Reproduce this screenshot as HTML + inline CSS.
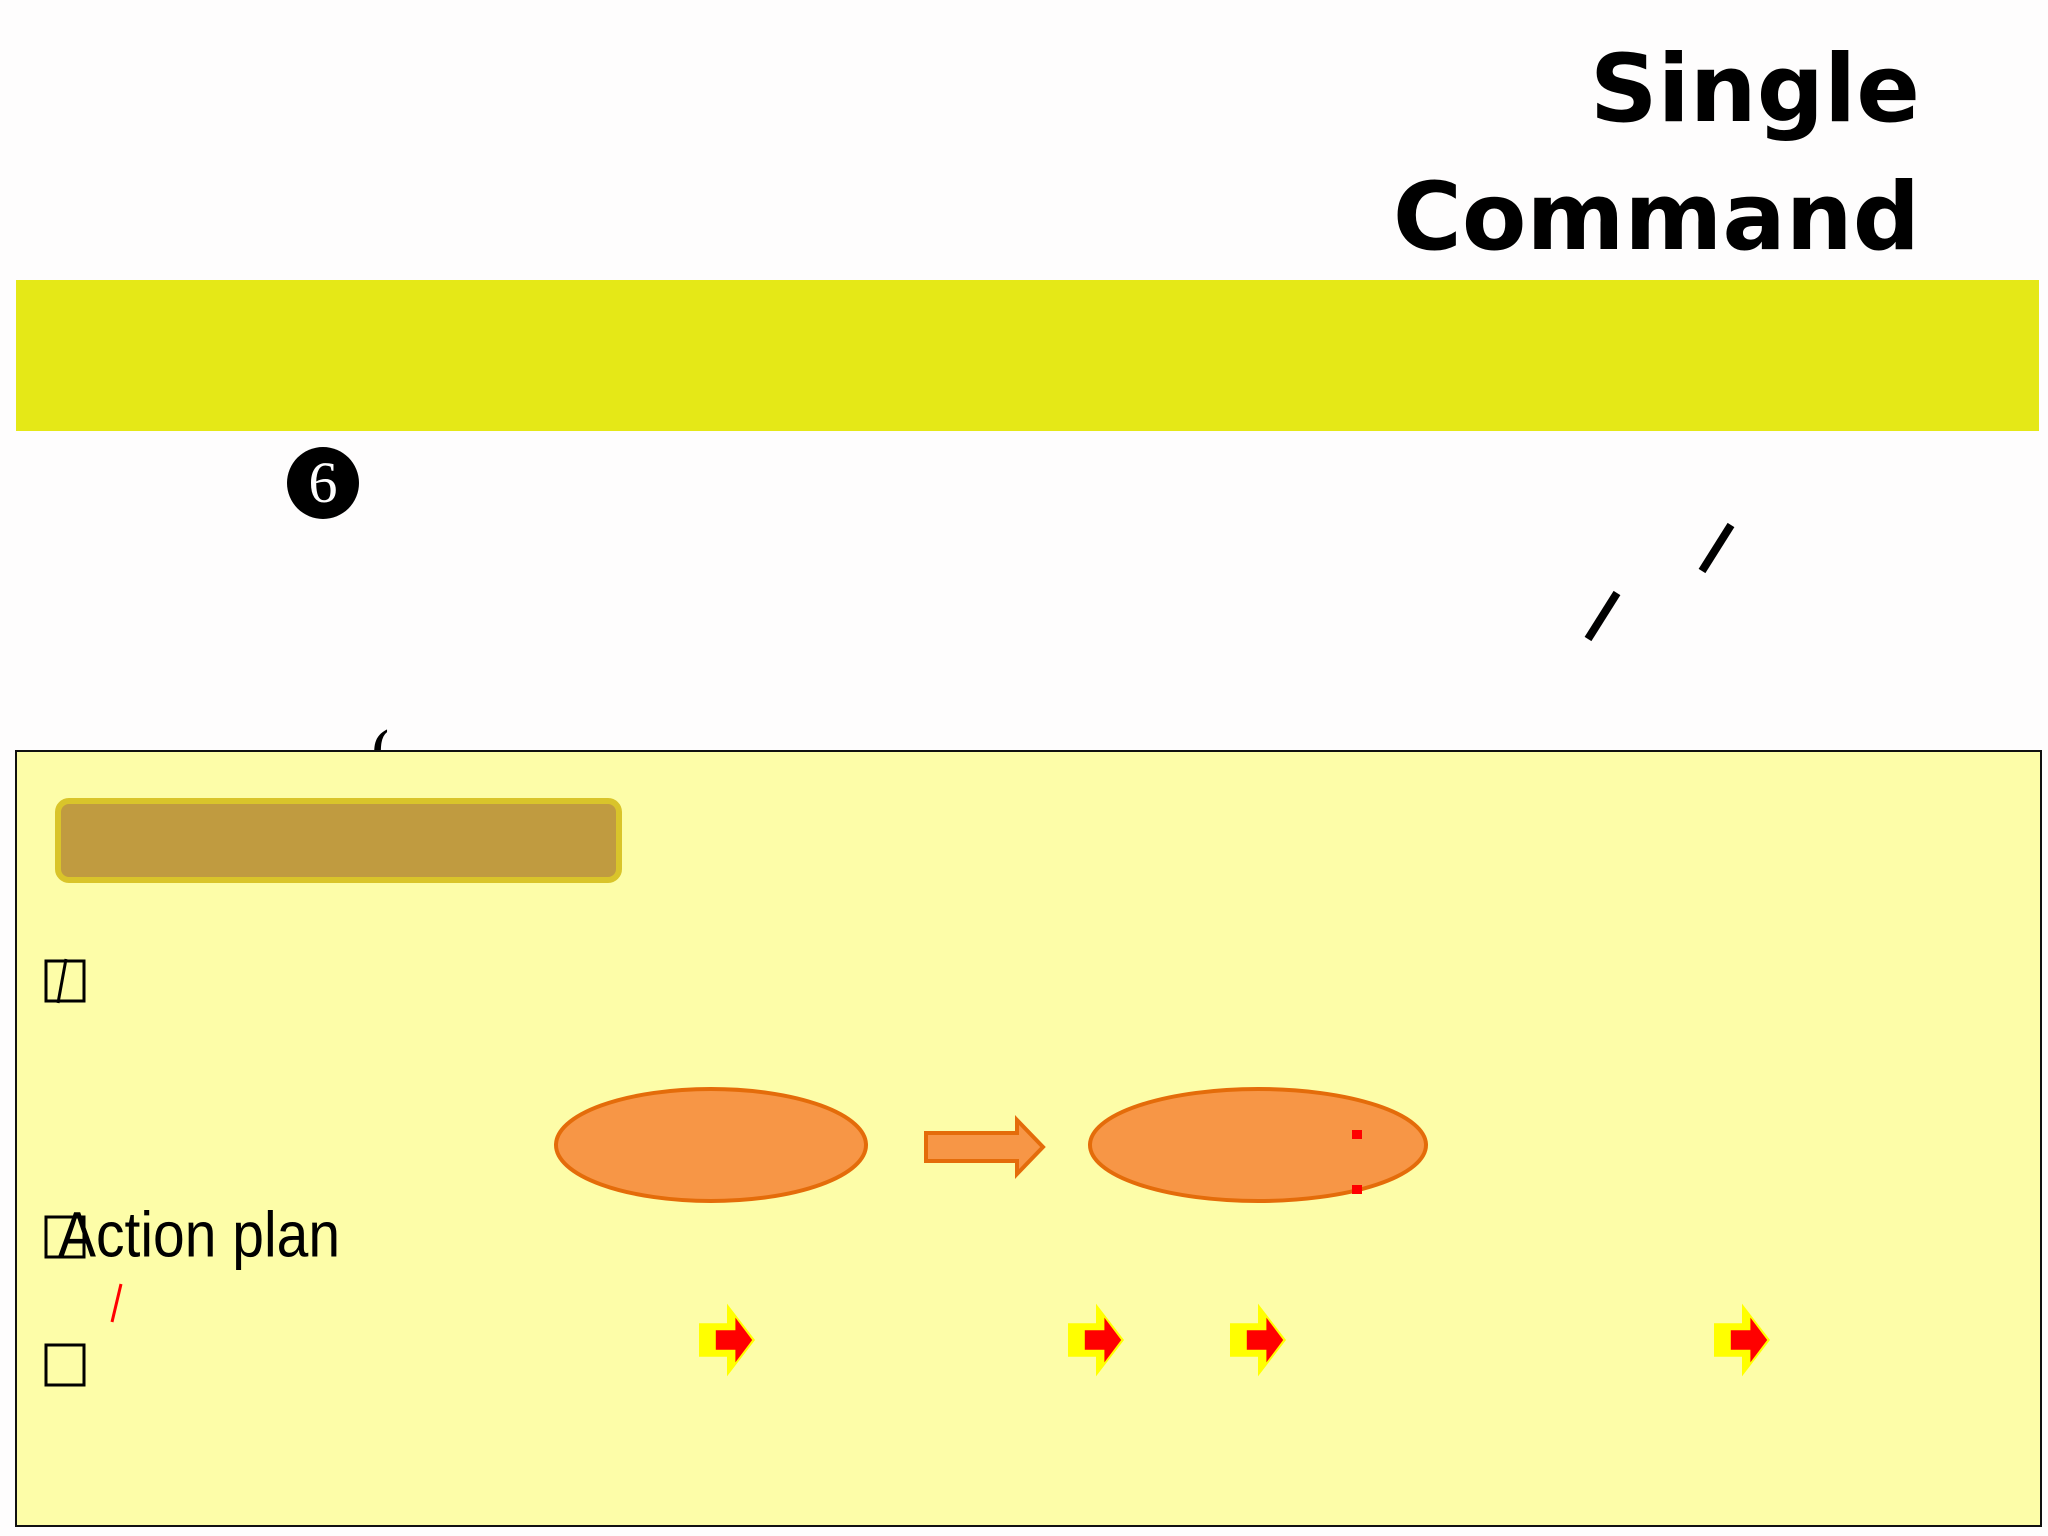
<!DOCTYPE html>
<html><head><meta charset="utf-8"><style>
html,body{margin:0;padding:0;width:2048px;height:1536px;overflow:hidden;background:#fefdfd;position:relative;font-family:"Liberation Sans",sans-serif}
.a{position:absolute;white-space:nowrap}
</style></head><body>
<div class="a" style="right:128px;top:26px;text-align:right;font-family:'DejaVu Sans',sans-serif;font-weight:bold;font-size:94px;line-height:128px;color:#000">Single<br>Command</div>
<div class="a" style="left:16px;top:280px;width:2023px;height:151px;background:#e5e817"></div>
<div class="a" style="left:287px;top:447px;width:72px;height:72px;border-radius:50%;background:#000;color:#fff;font-family:'Liberation Serif',serif;font-size:58px;line-height:72px;text-align:center">6</div>
<div class="a" style="left:372px;top:718px;font-family:'Liberation Serif',serif;font-size:50px;font-weight:bold;color:#000">(</div>
<div class="a" style="left:15px;top:750px;width:2023px;height:773px;background:#fdfda8;border:2px solid #111"></div>
<div class="a" style="left:55px;top:798px;width:555px;height:73px;background:#c09b40;border:6px solid #d9c42a;border-radius:14px"></div>
<svg class="a" style="left:0;top:0" width="2048" height="1536">
<defs>
<g id="sa">
<polygon points="0,-12 20,-12 20,-26 40,0 20,26 20,12 0,12" fill="#ffff00"/>
<polygon points="12,-7 26,-7 26,-16 38,0 26,16 26,7 12,7" fill="#f00"/>
</g>
</defs>
<line x1="1702" y1="571" x2="1731" y2="525" stroke="#000" stroke-width="8"/>
<line x1="1588" y1="639" x2="1617" y2="593" stroke="#000" stroke-width="8"/>
<rect x="46" y="961" width="38" height="40" fill="none" stroke="#000" stroke-width="3"/>
<line x1="58" y1="1003" x2="66" y2="959" stroke="#000" stroke-width="3"/>
<rect x="46" y="1217" width="38" height="40" fill="none" stroke="#000" stroke-width="3"/>
<rect x="46" y="1345" width="38" height="40" fill="none" stroke="#000" stroke-width="3"/>
<ellipse cx="711" cy="1145" rx="155" ry="56" fill="#f79646" stroke="#e46c0a" stroke-width="4"/>
<ellipse cx="1258" cy="1145" rx="168" ry="56" fill="#f79646" stroke="#e46c0a" stroke-width="4"/>
<polygon points="926,1133 1017,1133 1017,1120 1043,1147 1017,1174 1017,1161 926,1161" fill="#f79646" stroke="#e46c0a" stroke-width="4"/>
<rect x="1352" y="1130" width="10" height="9" fill="#f00"/>
<rect x="1352" y="1185" width="10" height="9" fill="#f00"/>
<line x1="121" y1="1284" x2="112" y2="1322" stroke="#f00" stroke-width="3"/>
<use href="#sa" transform="translate(699,1340) scale(1.4)"/>
<use href="#sa" transform="translate(1068,1340) scale(1.4)"/>
<use href="#sa" transform="translate(1230,1340) scale(1.4)"/>
<use href="#sa" transform="translate(1714,1340) scale(1.4)"/>
</svg>
<div class="a" style="left:58px;top:1209px;font-size:57px;line-height:60px;color:#000;transform:scaleY(1.12);transform-origin:0 100%">Action plan</div>
</body></html>
